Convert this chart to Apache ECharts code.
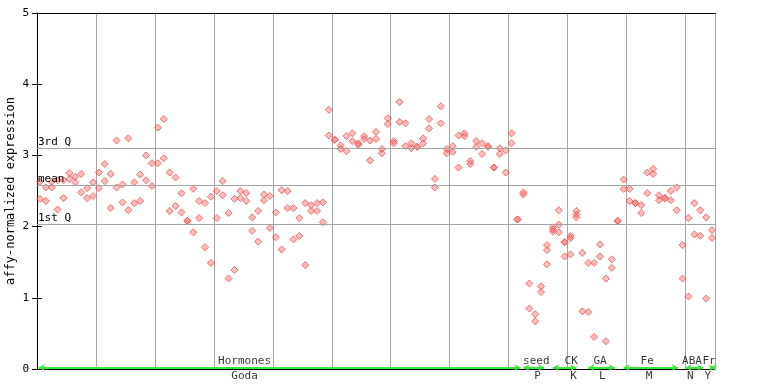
<!DOCTYPE html>
<html><head><meta charset="utf-8">
<script src="https://cdn.jsdelivr.net/npm/echarts@6/dist/echarts.min.js"></script>
<style>html,body{margin:0;padding:0;background:#fff}#c{width:768px;height:384px}</style>
</head><body><div id="c"></div>
<script>
// replicate values per sample (sample i drawn at x = i + 0.5)
const rep1 = [2.63,2.55,2.63,2.65,2.65,2.75,2.70,2.74,2.54,2.62,2.76,2.88,2.74,3.21,2.59,3.24,2.62,2.73,3.00,2.89,
3.39,3.51,2.76,2.69,2.47,2.08,2.53,2.36,2.33,2.42,2.50,2.64,2.19,2.39,2.50,2.47,2.13,2.22,2.45,2.43,
2.20,2.51,2.50,2.26,2.12,2.33,2.30,2.33,2.34,3.64,3.22,3.14,3.27,3.31,3.17,3.27,3.21,3.33,3.09,3.52,
3.20,3.75,3.45,3.17,3.12,3.24,3.51,2.67,3.69,3.09,3.13,3.28,3.31,2.92,3.20,3.17,3.13,2.83,3.10,3.07,
3.31,2.10,2.48,1.20,0.77,1.16,1.74,1.99,2.23,1.78,1.87,2.22,1.63,1.49,1.49,1.75,1.27,1.54,2.08,2.66,
2.53,2.33,2.30,2.76,2.81,2.44,2.40,2.50,2.55,1.74,2.12,2.33,2.23,2.13,1.95];
const rep2 = [2.39,2.36,2.55,2.24,2.40,2.67,2.62,2.48,2.40,2.43,2.54,2.64,2.26,2.55,2.34,2.23,2.33,2.36,2.65,2.57,
2.89,2.96,2.22,2.29,2.20,2.08,1.92,2.12,1.71,1.49,2.12,2.44,1.27,1.39,2.40,2.36,1.94,1.79,2.37,1.98,
1.85,1.68,2.26,1.82,1.87,1.46,2.22,2.22,2.06,3.28,3.22,3.09,3.06,3.20,3.15,3.23,2.93,3.23,3.03,3.44,
3.17,3.47,3.13,3.10,3.12,3.17,3.38,2.55,3.45,3.03,3.05,2.83,3.27,2.88,3.12,3.02,3.12,2.83,3.02,2.76,
3.17,2.10,2.45,0.85,0.67,1.08,1.67,1.96,2.03,1.78,1.84,2.17,0.81,0.80,0.45,1.58,0.39,1.42,2.08,2.53,
2.36,2.33,2.19,2.47,2.74,2.37,2.40,2.37,2.23,1.27,1.02,1.89,1.87,0.99,1.84];
const rep3Samples = [86,87,88,89,90,91];
const rep3Values  = [1.47,1.93,1.92,1.58,1.61,2.13];

const quartileNames = ['3rd Q','mean','1st Q'];
const quartileValues = [3.10,2.585,2.03];

const groupTop    = ['Hormones','seed','CK','GA','Fe','ABA','Fr'];
const groupBottom = ['Goda','P','K','L','M','N','Y'];
const groupStart  = [0.3,82.5,87.5,93.5,99.5,110.0,114.2];
const groupEnd    = [82.0,86.0,91.5,98.0,108.7,113.0,115.0];
const topLabelX    = [35.2,84.7,90.6,95.5,103.5,111.1,114.0];
const bottomLabelX = [35.2,84.9,91.0,95.9,103.8,110.8,113.8];

const FONT = 'DejaVu Sans Mono';
const RED = '#ff4d4d';

const pts = [];
rep1.forEach((v,i)=>pts.push([i+0.5,v]));
rep2.forEach((v,i)=>pts.push([i+0.5,v]));
rep3Samples.forEach((s,k)=>pts.push([s+0.5,rep3Values[k]]));

const chart = echarts.init(document.getElementById('c'), null, {renderer:'canvas'});
const axisBase = {min:0,max:115,interval:10,type:'value'};
chart.setOption({
  animation:false,
  grid:{left:37,right:53,top:13,bottom:15,containLabel:false,outerBoundsMode:'none'},
  xAxis:[
    Object.assign({position:'bottom',axisLine:{show:true,onZero:false,lineStyle:{color:'#000',width:1}},axisTick:{show:false},axisLabel:{show:false},
      splitLine:{show:true,lineStyle:{color:'#a4a4a4',width:1}}},axisBase),
    Object.assign({position:'top',axisLine:{show:true,onZero:false,lineStyle:{color:'#000',width:1}},axisTick:{show:false},axisLabel:{show:false},splitLine:{show:false}},axisBase)
  ],
  yAxis:[
    {type:'value',min:0,max:5,interval:1,position:'left',
     axisLine:{show:true,lineStyle:{color:'#000',width:1}},
     axisTick:{show:true,inside:true,length:5,lineStyle:{color:'#000'}},
     axisLabel:{color:'#000',fontFamily:FONT,fontSize:11,margin:8},
     splitLine:{show:false},
     name:'affy-normalized expression',nameLocation:'middle',nameGap:20,nameRotate:90,nameMoveOverlap:false,
     nameTextStyle:{color:'#000',fontFamily:FONT,fontSize:12}},
    {type:'value',min:0,max:5,interval:1,position:'right',
     axisLine:{show:true,lineStyle:{color:'#000',width:1}},
     axisTick:{show:true,inside:true,length:5,lineStyle:{color:'#000'}},
     axisLabel:{show:false},splitLine:{show:false}}
  ],
  series:[
    {type:'scatter',xAxisIndex:0,yAxisIndex:0,data:[],silent:true,
     markLine:{silent:true,symbol:['none','none'],animation:false,
       lineStyle:{color:'#a4a4a4',type:'solid',width:1},
       label:{position:'insideStartTop',distance:[1,1],color:'#000',fontFamily:FONT,fontSize:11,formatter:p=>p.name},
       data:quartileValues.map((v,k)=>({name:quartileNames[k],yAxis:v}))}},
    {type:'scatter',xAxisIndex:0,yAxisIndex:0,data:[],silent:true,
     markLine:{silent:true,symbol:['arrow','arrow'],symbolSize:[5,6],animation:false,
       lineStyle:{color:'#33ee33',type:'solid',width:2},
       label:{show:false},
       data:groupStart.map((s,k)=>[{coord:[s,0.02]},{coord:[groupEnd[k],0.02]}])}},
    {type:'scatter',symbolSize:7,symbol:'diamond',data:pts,clip:false,
     itemStyle:{color:'rgba(255,77,77,0.45)',borderColor:RED,borderWidth:1}},
    {type:'scatter',symbolSize:0,clip:false,silent:true,
     data:topLabelX.map((x,k)=>({value:[x,0],name:groupTop[k]})),
     label:{show:true,position:'top',distance:2,color:'#000',fontFamily:FONT,fontSize:11,formatter:p=>p.name}},
    {type:'scatter',symbolSize:0,clip:false,silent:true,
     data:bottomLabelX.map((x,k)=>({value:[x,0],name:groupBottom[k]})),
     label:{show:true,position:'bottom',distance:2,color:'#000',fontFamily:FONT,fontSize:11,formatter:p=>p.name}}
  ]
});
</script></body></html>
